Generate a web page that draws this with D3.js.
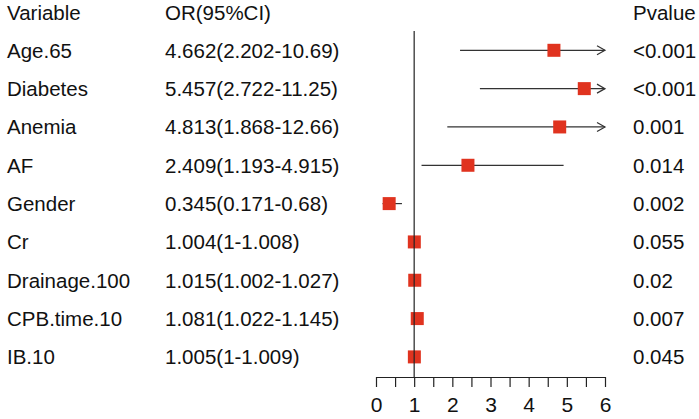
<!DOCTYPE html>
<html>
<head>
<meta charset="utf-8">
<script src="https://cdn.jsdelivr.net/npm/d3@7"></script>
<style>
  body { margin: 0; background: #fff; }
  text { font-family: "Liberation Sans", Arial, sans-serif; fill: #111; }
</style>
</head>
<body>
<div id="chart"></div>
<script>
// values
var variables = ["Age.65", "Diabetes", "Anemia", "AF", "Gender", "Cr", "Drainage.100", "CPB.time.10", "IB.10"];
var orValues = [4.662, 5.457, 4.813, 2.409, 0.345, 1.004, 1.015, 1.081, 1.005];
var lowerCI = [2.202, 2.722, 1.868, 1.193, 0.171, 1, 1.002, 1.022, 1];
var upperCI = [10.69, 11.25, 12.66, 4.915, 0.68, 1.008, 1.027, 1.145, 1.009];
var orLabels = ["4.662(2.202-10.69)", "5.457(2.722-11.25)", "4.813(1.868-12.66)", "2.409(1.193-4.915)",
  "0.345(0.171-0.68)", "1.004(1-1.008)", "1.015(1.002-1.027)", "1.081(1.022-1.145)", "1.005(1-1.009)"];
var pValues = ["<0.001", "<0.001", "0.001", "0.014", "0.002", "0.055", "0.02", "0.007", "0.045"];
var headers = ["Variable", "OR(95%CI)", "Pvalue"];
var tickValues = [0, 0.5, 1, 1.5, 2, 2.5, 3, 3.5, 4, 4.5, 5, 5.5, 6];

var width = 699, height = 419;
var rows = variables.map(function (v, i) {
  return { name: v, or: orValues[i], lo: lowerCI[i], hi: upperCI[i], label: orLabels[i], p: pValues[i] };
});

var svg = d3.select("#chart").append("svg")
  .attr("width", width).attr("height", height);

var x = d3.scaleLinear().domain([0, 6]).range([376, 605]);
var y = d3.scalePoint().domain(variables).range([50.3, 356.9]);
var axisY = 377;
var colX = [7, 165, 633];
var fs = "20.5px";

// header
headers.forEach(function (h, i) {
  svg.append("text").attr("x", colX[i]).attr("y", 19.5).attr("font-size", fs).text(h);
});

// text columns
var rowG = svg.selectAll("g.row").data(rows).enter().append("g").attr("class", "row");
rowG.append("text").attr("x", colX[0]).attr("y", function (d) { return y(d.name) + 7.3; })
  .attr("font-size", fs).text(function (d) { return d.name; });
rowG.append("text").attr("x", colX[1]).attr("y", function (d) { return y(d.name) + 7.3; })
  .attr("font-size", fs).text(function (d) { return d.label; });
rowG.append("text").attr("x", colX[2]).attr("y", function (d) { return y(d.name) + 7.3; })
  .attr("font-size", fs).text(function (d) { return d.p; });

// reference line at OR = 1
svg.append("line").attr("x1", x(1)).attr("x2", x(1)).attr("y1", 31).attr("y2", axisY)
  .attr("stroke", "#222").attr("stroke-width", 1.2);

// CI lines, clipped at the axis end
rowG.append("line")
  .attr("x1", function (d) { return x(Math.max(0, d.lo)); })
  .attr("x2", function (d) { return x(Math.min(6, d.hi)); })
  .attr("y1", function (d) { return y(d.name); })
  .attr("y2", function (d) { return y(d.name); })
  .attr("stroke", "#333").attr("stroke-width", 1.2);

// arrow where the upper limit runs off the scale
rowG.filter(function (d) { return d.hi > 6; }).append("path")
  .attr("d", function (d) {
    var xe = x(6), yy = y(d.name);
    return "M" + (xe - 8) + "," + (yy - 4.5) + "L" + xe + "," + yy + "L" + (xe - 8) + "," + (yy + 4.5);
  })
  .attr("fill", "none").attr("stroke", "#333").attr("stroke-width", 1.2);

// boxes
var box = 13;
rowG.append("rect")
  .attr("x", function (d) { return x(d.or) - box / 2; })
  .attr("y", function (d) { return y(d.name) - box / 2; })
  .attr("width", box).attr("height", box)
  .attr("fill", "#e0331f");

// x axis
var xAxis = d3.axisBottom(x).tickValues(tickValues).tickSize(10).tickSizeOuter(0).tickPadding(10)
  .tickFormat(function (d) { return d % 1 === 0 ? d : ""; });
var ax = svg.append("g").attr("transform", "translate(0," + axisY + ")").call(xAxis);
ax.selectAll("path, line").attr("stroke", "#222").attr("stroke-width", 1.2);
ax.selectAll("text").attr("font-size", "21px").attr("font-family", "Liberation Sans, Arial, sans-serif").attr("fill", "#111");
</script>
</body>
</html>
